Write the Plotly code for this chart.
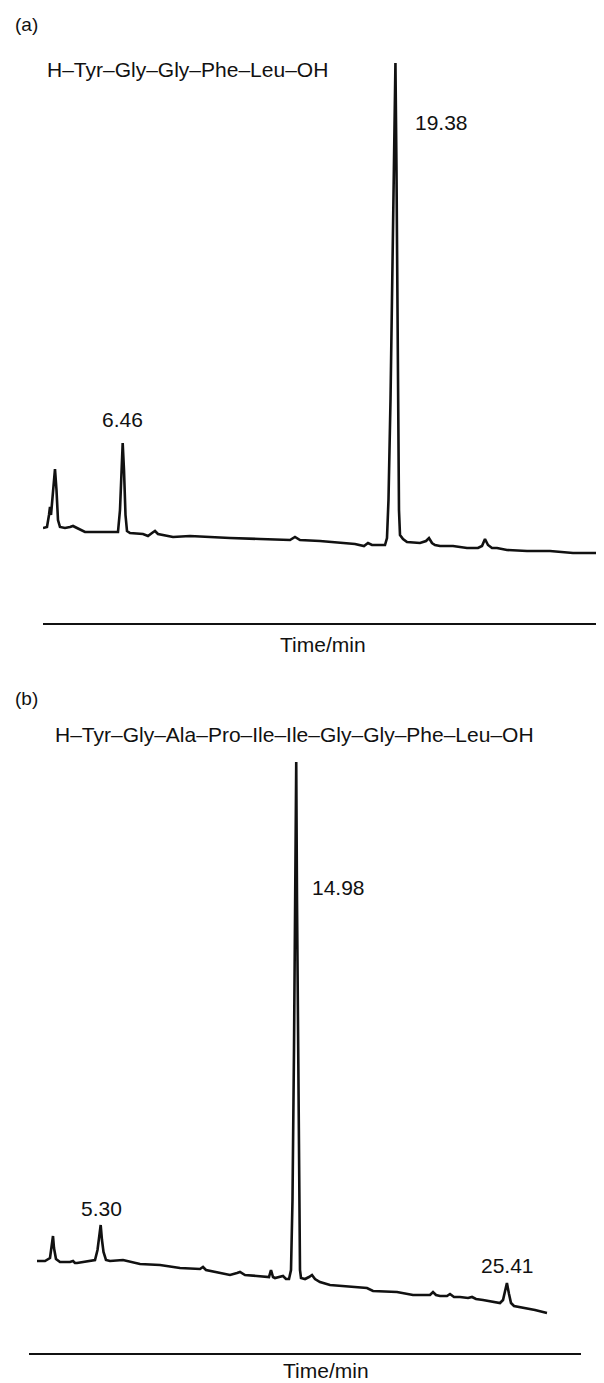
import plotly.graph_objects as go

# ---------------- Panel (a): H-Tyr-Gly-Gly-Phe-Leu-OH ----------------
time_a = [2.685, 2.874, 2.969, 3.016, 3.064, 3.111, 3.182, 3.253, 3.324, 3.395,
          3.490, 3.727, 3.964, 4.106, 4.295, 4.674, 5.385, 5.858, 6.237, 6.332,
          6.403, 6.460, 6.522, 6.593, 6.664, 6.806, 7.422, 7.658, 7.848, 7.990,
          8.132, 8.369, 8.843, 9.648, 10.595, 10.927, 11.543, 12.964, 14.385, 14.622,
          14.859, 15.806, 16.754, 17.464, 17.890, 18.080, 18.269, 18.885, 18.980, 19.051,
          19.146, 19.241, 19.312, 19.380, 19.430, 19.478, 19.515, 19.548, 19.596, 19.738,
          19.928, 20.543, 20.828, 20.970, 21.112, 21.254, 21.491, 22.107, 22.770, 23.291,
          23.480, 23.622, 23.764, 23.954, 24.191, 24.664, 25.612, 26.701, 27.791, 29.165]
signal_a = [95, 96, 108, 116, 108, 118, 138, 154, 133, 103,
            96, 95, 96, 97, 95, 91, 91, 91, 91, 113,
            153, 180, 153, 108, 92, 90, 89, 87, 90, 92,
            89, 88, 86, 87, 86, 85, 85, 84, 83, 86,
            83, 82, 80, 79, 77, 80, 78, 78, 85, 123,
            223, 343, 453, 560, 453, 323, 203, 113, 88, 84,
            81, 80, 82, 85, 80, 78, 77, 77, 75, 75,
            77, 84, 78, 75, 75, 73, 72, 72, 70, 70]

peak_labels_a = ["6.46", "19.38"]
label_pos_a = [(6.46, 203, "center"), (20.21, 500, "left")]

# ---------------- Panel (b): H-Tyr-Gly-Ala-Pro-Ile-Ile-Gly-Gly-Phe-Leu-OH ----------------
time_b = [2.147, 2.543, 2.790, 2.889, 2.939, 2.988, 3.087, 3.285, 3.780, 3.929,
          4.028, 4.127, 4.770, 5.018, 5.142, 5.216, 5.300, 5.364, 5.439, 5.562,
          5.760, 6.404, 7.246, 8.236, 9.226, 10.216, 10.364, 10.513, 11.701, 12.048,
          12.196, 12.444, 13.335, 13.632, 13.731, 13.830, 13.929, 14.226, 14.325, 14.473,
          14.622, 14.721, 14.795, 14.869, 14.944, 14.980, 15.018, 15.067, 15.117, 15.166,
          15.216, 15.414, 15.612, 15.760, 15.909, 16.156, 16.651, 17.246, 17.493, 18.483,
          18.780, 19.968, 20.760, 21.602, 21.751, 21.899, 22.097, 22.443, 22.592, 22.790,
          23.087, 23.483, 23.681, 23.879, 24.226, 25.067, 25.216, 25.315, 25.410, 25.513,
          25.612, 25.760, 26.305, 26.800, 27.394]
signal_b = [92, 92, 95, 108, 117, 105, 94, 91, 91, 92,
            90, 90, 92, 93, 103, 115, 128, 113, 101, 93,
            92, 93, 89, 88, 85, 84, 86, 83, 78, 80,
            81, 78, 76, 76, 83, 76, 75, 76, 77, 74,
            74, 83, 153, 303, 453, 591, 453, 303, 153, 83,
            75, 74, 76, 78, 74, 71, 68, 67, 66, 65,
            62, 61, 58, 58, 61, 58, 57, 57, 59, 56,
            56, 55, 56, 54, 53, 50, 53, 61, 70, 59,
            50, 47, 45, 43, 40]

peak_labels_b = ["5.30", "14.98", "25.41"]
label_pos_b = [(5.364, 145, "center"), (15.661, 466, "left"), (25.414, 88, "center")]

titles = ["H–Tyr–Gly–Gly–Phe–Leu–OH",
          "H–Tyr–Gly–Ala–Pro–Ile–Ile–Gly–Gly–Phe–Leu–OH"]
panel_tags = ["(a)", "(b)"]
x_title = "Time/min"

# the page body has an 8 px default margin: lay out in page pixels, shift by 8
OFF = 8
W, H = 604 - OFF, 1383 - OFF
FONT = "Liberation Sans, Arial, Helvetica, sans-serif"
FS = 21
INK = "#111111"


def px(x):
    return (x - OFF) / W


def py(y):
    return 1 - (y - OFF) / H


fig = go.Figure()
fig.add_trace(go.Scatter(x=time_a, y=signal_a, mode="lines",
                         line=dict(color=INK, width=2.6), xaxis="x", yaxis="y",
                         showlegend=False, hoverinfo="skip"))
fig.add_trace(go.Scatter(x=time_b, y=signal_b, mode="lines",
                         line=dict(color=INK, width=2.6), xaxis="x2", yaxis="y2",
                         showlegend=False, hoverinfo="skip"))

axis_common = dict(showgrid=False, zeroline=False, showticklabels=False, ticks="")
fig.update_layout(
    width=W, height=H,
    margin=dict(l=0, r=0, t=0, b=0),
    paper_bgcolor="white", plot_bgcolor="white",
    font=dict(family=FONT, size=FS, color=INK),
    xaxis=dict(domain=[px(43), 1.0], range=[2.685, 6.46 + (W + OFF - 122.7) / 21.11],
               showline=True, linecolor=INK, linewidth=2, anchor="y", **axis_common),
    yaxis=dict(domain=[py(623), py(40)], range=[0, 583], showline=False,
               anchor="x", **axis_common),
    xaxis2=dict(domain=[px(29), px(581)], range=[1.751, 29.077], showline=True,
                linecolor=INK, linewidth=2, anchor="y2", **axis_common),
    yaxis2=dict(domain=[py(1353), py(700)], range=[0, 653], showline=False,
                anchor="x2", **axis_common),
)

ann = []
ann.append(dict(text=panel_tags[0], x=px(13), y=py(24), xref="paper", yref="paper",
                xanchor="left", yanchor="middle", showarrow=False, font=dict(size=19)))
ann.append(dict(text=titles[0], x=px(45), y=py(70), xref="paper", yref="paper",
                xanchor="left", yanchor="middle", showarrow=False))
ann.append(dict(text=panel_tags[1], x=px(13), y=py(698), xref="paper", yref="paper",
                xanchor="left", yanchor="middle", showarrow=False, font=dict(size=19)))
ann.append(dict(text=titles[1], x=px(53), y=py(734), xref="paper", yref="paper",
                xanchor="left", yanchor="middle", showarrow=False))
ann.append(dict(text=x_title, x=px(323), y=py(644), xref="paper", yref="paper",
                xanchor="center", yanchor="middle", showarrow=False))
ann.append(dict(text=x_title, x=px(326), y=py(1370), xref="paper", yref="paper",
                xanchor="center", yanchor="middle", showarrow=False))
for lab, (tx, sy, xa) in zip(peak_labels_a, label_pos_a):
    ann.append(dict(text=lab, x=tx, y=sy, xref="x", yref="y", xanchor=xa,
                    yanchor="middle", showarrow=False))
for lab, (tx, sy, xa) in zip(peak_labels_b, label_pos_b):
    ann.append(dict(text=lab, x=tx, y=sy, xref="x2", yref="y2", xanchor=xa,
                    yanchor="middle", showarrow=False))
fig.update_layout(annotations=ann)

fig.write_html("out.html", config={"displayModeBar": False})
